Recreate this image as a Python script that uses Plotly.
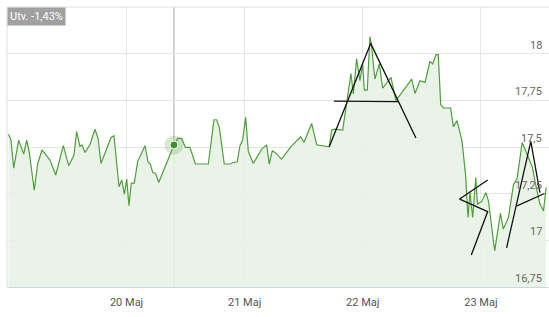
import plotly.graph_objects as go

# Position in trading days (0 = start of 17 Maj) and price
x = [0.0, 0.021, 0.044, 0.086, 0.129, 0.154, 0.176, 0.218, 0.247, 0.284,
     0.351, 0.400, 0.464, 0.510, 0.555, 0.577, 0.605, 0.622, 0.648, 0.690,
     0.732, 0.758, 0.783, 0.868, 0.893, 0.936, 0.959, 0.981, 1.001, 1.020,
     1.040, 1.065, 1.094, 1.156, 1.181, 1.201, 1.221, 1.246, 1.272, 1.401,
     1.433, 1.467, 1.497, 1.537, 1.582, 1.692, 1.740, 1.763, 1.785, 1.827,
     1.876, 1.903, 1.937, 1.960, 1.983, 2.008, 2.031, 2.073, 2.144, 2.186,
     2.208, 2.234, 2.257, 2.313, 2.390, 2.474, 2.502, 2.567, 2.610, 2.716,
     2.737, 2.765, 2.830, 2.864, 2.900, 2.920, 2.948, 2.976, 2.999, 3.013,
     3.038, 3.061, 3.075, 3.089, 3.103, 3.140, 3.168, 3.239, 3.281, 3.414,
     3.442, 3.484, 3.527, 3.569, 3.592, 3.620, 3.639, 3.660, 3.682, 3.744,
     3.767, 3.798, 3.840, 3.870, 3.891, 3.908, 3.931, 3.957, 3.971, 4.006,
     4.043, 4.064, 4.081, 4.117, 4.166, 4.190, 4.233, 4.277, 4.306, 4.350,
     4.373, 4.437, 4.460, 4.500, 4.530, 4.553]
price = [17.569, 17.537, 17.387, 17.537, 17.462, 17.537, 17.471, 17.269, 17.409, 17.485,
         17.430, 17.350, 17.507, 17.400, 17.458, 17.583, 17.503, 17.511, 17.471, 17.512,
         17.595, 17.548, 17.412, 17.551, 17.560, 17.287, 17.324, 17.248, 17.328, 17.185,
         17.307, 17.307, 17.423, 17.507, 17.421, 17.409, 17.364, 17.358, 17.310, 17.511,
         17.546, 17.546, 17.498, 17.498, 17.409, 17.409, 17.646, 17.646, 17.605, 17.409,
         17.409, 17.417, 17.421, 17.507, 17.537, 17.659, 17.476, 17.412, 17.489, 17.511,
         17.409, 17.480, 17.471, 17.435, 17.501, 17.555, 17.524, 17.626, 17.512, 17.501,
         17.591, 17.596, 17.591, 17.748, 17.894, 17.784, 17.972, 17.855, 17.945, 17.805,
         17.805, 18.091, 18.043, 17.945, 17.864, 17.945, 17.816, 17.873, 17.748, 17.864,
         17.787, 17.855, 17.846, 17.959, 17.945, 17.995, 17.995, 17.727, 17.709, 17.709,
         17.609, 17.641, 17.534, 17.355, 17.122, 17.256, 17.122, 17.337, 17.194, 17.207,
         17.256, 17.212, 17.122, 16.944, 17.144, 17.060, 17.122, 17.301, 17.328, 17.524,
         17.489, 17.390, 17.310, 17.194, 17.158, 17.283]

xtick_vals = [1, 2, 3, 4]
xtick_text = ["20 Maj", "21 Maj", "22 Maj", "23 Maj"]
ytick_vals = [16.75, 17.0, 17.25, 17.5, 17.75, 18.0]
ytick_text = ["16,75", "17", "17,25", "17,5", "17,75", "18"]

# User drawings (black lines): each is a polyline
drawings = [
    ([2.716, 3.067, 3.450], [17.501, 18.055, 17.548]),
    ([2.756, 3.301], [17.746, 17.743]),
    ([4.058, 3.820, 4.058, 3.919], [17.323, 17.221, 17.154, 16.921]),
    ([4.218, 4.423, 4.500], [16.960, 17.530, 17.256]),
    ([4.306, 4.539], [17.185, 17.251]),
]

hover_index = 39
badge_text = "Utv. -1,43%"

LINE = "#4f9e3c"
FONT = "Roboto"

fig = go.Figure()
fig.add_trace(go.Scatter(
    x=x, y=price, mode="lines", fill="tozeroy",
    line=dict(color=LINE, width=1.2),
    fillcolor="rgba(230,241,227,0.85)", hoverinfo="skip"))

for dx, dy in drawings:
    fig.add_trace(go.Scatter(x=dx, y=dy, mode="lines",
                             line=dict(color="#111111", width=1.3), hoverinfo="skip"))

# hover halo + marker
fig.add_trace(go.Scatter(x=[x[hover_index]], y=[price[hover_index]], mode="markers",
                         marker=dict(size=19, color="rgba(79,158,60,0.22)", line=dict(width=0))))
fig.add_trace(go.Scatter(x=[x[hover_index]], y=[price[hover_index]], mode="markers",
                         marker=dict(size=8, color="#3f8f32", line=dict(color="#ffffff", width=1))))

fig.add_shape(type="line", xref="x", yref="paper", x0=x[hover_index], x1=x[hover_index],
              y0=0, y1=1, line=dict(color="#a8a8a8", width=1), layer="below")
# top and left borders
fig.add_shape(type="line", xref="paper", yref="paper", x0=0, x1=1, y0=1, y1=1,
              line=dict(color="#e0e0e0", width=1))
fig.add_shape(type="line", xref="paper", yref="paper", x0=0, x1=0, y0=0, y1=1,
              line=dict(color="#e0e0e0", width=1))

for v, t in zip(ytick_vals, ytick_text):
    fig.add_annotation(xref="paper", yref="y", x=1, y=v, text=t, showarrow=False,
                       xanchor="right", yanchor="bottom", xshift=-5, yshift=0,
                       font=dict(family=FONT, size=11, color="#666666"))

fig.add_annotation(xref="paper", yref="paper", x=0, y=1, text=badge_text, showarrow=False,
                   xanchor="left", yanchor="top", bgcolor="#a0a0a0",
                   font=dict(family=FONT, size=11, color="#ffffff"),
                   borderpad=2)

fig.update_layout(
    width=549, height=317,
    margin=dict(l=7, r=0, t=7, b=30),
    paper_bgcolor="white", plot_bgcolor="white",
    showlegend=False, hovermode=False,
    font=dict(family=FONT, size=11, color="#555555"),
    xaxis=dict(range=[-0.0127, 4.577], tickvals=xtick_vals, ticktext=xtick_text,
               showgrid=True, gridcolor="#e6e6e6", gridwidth=1, zeroline=False,
               showline=True, linecolor="#ccd6eb", linewidth=1, ticks="",
               ticklabelstandoff=5,
               tickfont=dict(family=FONT, size=11, color="#555555")),
    yaxis=dict(range=[16.75, 18.25], tickvals=ytick_vals, showticklabels=False,
               showgrid=True, gridcolor="#e6e6e6", gridwidth=1, zeroline=False,
               ticks=""),
)

fig.write_html("out.html")
